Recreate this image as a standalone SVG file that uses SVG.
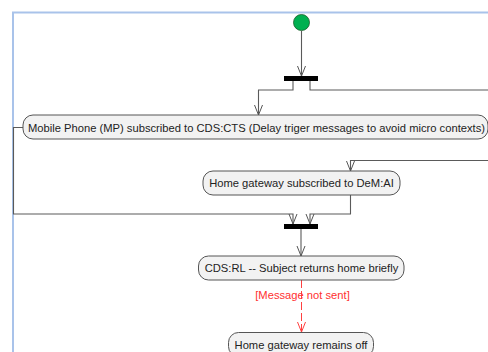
<svg xmlns="http://www.w3.org/2000/svg" width="488" height="352" viewBox="0 0 488 352">
  <defs>
    <style>
      .frame { fill: none; stroke: #a9c3ea; stroke-width: 2; }
      .node rect { fill: #f2f2f2; stroke: #555555; stroke-width: 1; }
      .node text { font-family: "Liberation Sans", Arial, sans-serif; font-size: 11.2px; fill: #222222; text-anchor: middle; }
      .edge { fill: none; stroke: #5a5a5a; stroke-width: 1.1; }
      .guard { fill: none; stroke: #ff4040; stroke-width: 1; stroke-dasharray: 8 3; }
      .guard-label { font-family: "Liberation Sans", Arial, sans-serif; font-size: 11.2px; fill: #ff3030; text-anchor: middle; }
      .bar { fill: #000000; }
    </style>
    <marker id="arrow" viewBox="0 0 10 10" refX="10" refY="5" markerWidth="10" markerHeight="10" markerUnits="userSpaceOnUse" orient="auto">
      <path d="M0,1 L10,5 L0,9" fill="none" stroke="#555555" stroke-width="1"/>
    </marker>
    <marker id="arrow-red" viewBox="0 0 10 10" refX="10" refY="5" markerWidth="10" markerHeight="10" markerUnits="userSpaceOnUse" orient="auto">
      <path d="M0,1 L10,5 L0,9" fill="none" stroke="#ff4040" stroke-width="1"/>
    </marker>
  </defs>

  <rect width="488" height="352" fill="#ffffff"/>
  <!-- activity frame -->
  <path class="frame" d="M13,360 L13,12.5 L500,12.5"/>

  <g id="connectors">
    <!-- start to fork -->
    <path class="edge" d="M301.5,31 L301.5,76" marker-end="url(#arrow)"/>
    <!-- fork to mobile phone -->
    <path class="edge" d="M293,81 L293,90 L258.5,90 L258.5,115" marker-end="url(#arrow)"/>
    <!-- fork to home gateway (routed around the right side) -->
    <path class="edge" d="M310,81 L310,90 L500,90"/>
    <path class="edge" d="M500,160.5 L350.5,160.5 L350.5,171" marker-end="url(#arrow)"/>
    <!-- mobile phone to join -->
    <path class="edge" d="M23,127.5 L13.5,127.5 L13.5,214 L293,214 L293,224" marker-end="url(#arrow)"/>
    <!-- home gateway to join -->
    <path class="edge" d="M350.5,194.5 L350.5,214 L310,214 L310,224" marker-end="url(#arrow)"/>
    <!-- join to CDS:RL -->
    <path class="edge" d="M301,229 L301,256" marker-end="url(#arrow)"/>
    <!-- guarded flow -->
    <path class="guard" d="M301.5,280 L301.5,332" marker-end="url(#arrow-red)"/>
    <text class="guard-label" x="302.5" y="299">[Message not sent]</text>
  </g>

  <g id="start">
    <circle cx="301.5" cy="22.5" r="8" fill="#00b050" stroke="#1a5a2a" stroke-width="0.8"/>
  </g>

  <g id="fork">
    <rect class="bar" x="284" y="76" width="34" height="5"/>
  </g>

  <g id="join">
    <rect class="bar" x="284" y="224" width="34" height="5"/>
  </g>

  <g id="mobile-phone" class="node">
    <rect x="23" y="115" width="465" height="24" rx="10" ry="10"/>
    <text x="256.5" y="131.5">Mobile Phone (MP) subscribed to CDS:CTS (Delay triger messages to avoid micro contexts)</text>
  </g>

  <g id="home-gateway" class="node">
    <rect x="203" y="171" width="197" height="24" rx="10" ry="10"/>
    <text x="301.5" y="186.5">Home gateway subscribed to DeM:AI</text>
  </g>

  <g id="returns-home" class="node">
    <rect x="198.5" y="256" width="205.5" height="24" rx="10" ry="10"/>
    <text x="301.5" y="272">CDS:RL -- Subject returns home briefly</text>
  </g>

  <g id="gateway-off" class="node">
    <rect x="228.5" y="332.5" width="145" height="24" rx="10" ry="10"/>
    <text x="301" y="348.5">Home gateway remains off</text>
  </g>
</svg>
